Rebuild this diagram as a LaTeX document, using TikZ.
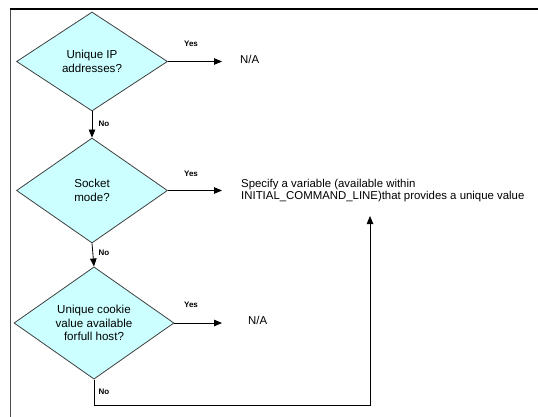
\documentclass[tikz,border=0pt]{standalone}
\usepackage{fontspec}
\setmainfont{Liberation Sans}
\usetikzlibrary{shapes.geometric,arrows.meta}
\definecolor{dfill}{HTML}{CCFFFF}
\definecolor{dline}{HTML}{404040}
\tikzset{
  decision/.style={diamond, draw=dline, fill=dfill, line width=0.8pt, inner sep=0pt,
    align=center, font=\fontsize{11.6}{13.5}\selectfont},
  arr/.style={-{Triangle[length=8pt,width=6.5pt]}, line width=0.8pt, draw=black},
  small/.style={font=\fontsize{8}{8}\selectfont\bfseries, inner sep=0pt},
  txt/.style={font=\fontsize{11.4}{12}\selectfont, inner sep=0pt, align=left}
}
\begin{document}
\begin{tikzpicture}[x=1pt,y=-1pt]
\useasboundingbox (0,0) rectangle (538,417);
\fill[white] (0,0) rectangle (538,417);
% frame
\draw[line width=1pt, draw=black!70] (10,417) -- (10,9);
\draw[line width=1.5pt, draw=black] (9.5,9) -- (538,9);

% decisions
\node[decision, minimum width=151pt, minimum height=99pt] (d1) at (92,61.5) {Unique IP\\addresses?};
\node[decision, minimum width=151pt, minimum height=105pt] (d2) at (92,190.5) {Socket\\mode?};
\node[decision, minimum width=160pt, minimum height=102pt] (d3) at (94,323) {Unique cookie\\value available\\forfull host?};

% results
\node[txt, anchor=west] (na1) at (240,59) {N/A};
\node[txt, anchor=west] (spec) at (241,190.5) {Specify a variable (available within\\INITIAL\_COMMAND\_LINE)that provides a unique value};
\node[txt, anchor=west] (na3) at (248,320) {N/A};
\coordinate (corner) at (370,405);

% yes arrows
\draw[arr, shorten >=18pt] (d1.east) -- (d1.east -| na1.west);
\draw[arr, shorten >=19pt] (d2.east) -- (d2.east -| spec.west);
\draw[arr, shorten >=26pt] (d3.east) -- (d3.east -| na3.west);
\node[small] (y1) at (191,44) {Yes};
\node[small] (y2) at (191,174) {Yes};
\node[small] (y3) at (191,305) {Yes};

% no arrows
\draw[arr] (d1.south) -- (d2.north);
\draw[arr] (d2.south) -- (d3.north);
\draw[arr, shorten >=14pt] (d3.south) |- (corner) -- (corner |- spec.south);
\node[small] (n1) at (104,124) {No};
\node[small] (n2) at (104,253) {No};
\node[small] (n3) at (104,392) {No};
\end{tikzpicture}
\end{document}
